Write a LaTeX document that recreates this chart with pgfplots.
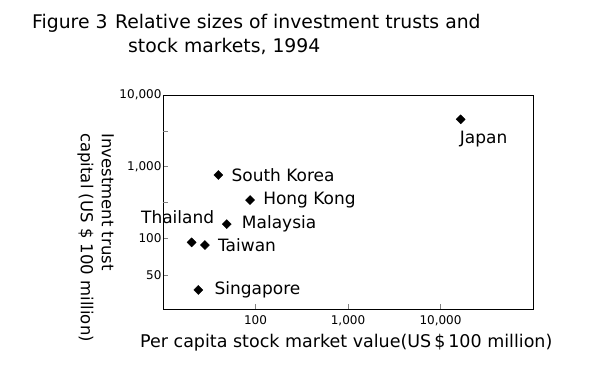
\documentclass[border=0pt]{standalone}
\usepackage{fontspec}
\setmainfont{DejaVu Sans}
\usepackage{pgfplots}
\pgfplotsset{compat=1.18}
\begin{document}
\begin{tikzpicture}[x=1bp,y=1bp]
\useasboundingbox (0,0) rectangle (597,377);
\node[anchor=base west, inner sep=0, font=\fontsize{18.8bp}{22bp}\selectfont] at (32,349) {Figure 3\hspace{0.4em}Relative sizes of investment trusts and};
\node[anchor=base west, inner sep=0, font=\fontsize{18.8bp}{22bp}\selectfont] at (128,325) {stock markets, 1994};
\begin{axis}[
  at={(163bp,68bp)}, anchor=south west,
  scale only axis, width=370bp, height=214bp,
  xmode=log, ymode=log,
  xmin=10, xmax=100000, ymin=10, ymax=10000,
  xtick={100,1000,10000}, xticklabels={100,{1,000},{10,000}},
  ytick={10000,1000,100,30.0}, yticklabels={{10,000},{1,000},100,50},
  extra y ticks={3162,316}, extra y tick labels={},
  extra tick style={tick align=inside, major tick length=5bp},
  xminorticks=false, yminorticks=false,
  tick align=inside, tick pos=left,
  major tick length=5bp,
  /pgf/number format/assume math mode=true,
  tick label style={font=\fontsize{12bp}{14bp}\selectfont},
  xticklabel style={yshift=-3bp},
  yticklabel style={xshift=2bp},
  axis line style={line width=0.8pt},
  clip=false,
]
\addplot[only marks, mark=square*, mark size=3.2bp, mark options={rotate=45, fill=black}] coordinates {
  (16520,4560) (39.7,756) (87.3,337) (48.9,155) (20.4,86) (28.4,78.9) (24.1,18.5)
};
\begin{scope}[every node/.style={font=\fontsize{17bp}{20bp}\selectfont, inner sep=0}]
\node[anchor=west, xshift=13bp] at (axis cs:39.7,756) {South Korea};
\node[anchor=west, xshift=13bp] at (axis cs:87.3,337) {Hong Kong};
\node[anchor=west, xshift=15bp] at (axis cs:48.9,155) {Malaysia};
\node[anchor=west, xshift=13bp] at (axis cs:28.4,78.9) {Taiwan};
\node[anchor=west, xshift=16bp] at (axis cs:24.1,18.5) {Singapore};
\node[anchor=north west, xshift=-1bp, yshift=-12bp] at (axis cs:16520,4560) {Japan};
\node[xshift=-14bp, yshift=25bp] at (axis cs:20.4,86) {Thailand};
\end{scope}
\end{axis}
\node[anchor=base west, inner sep=0, font=\fontsize{17.5bp}{20bp}\selectfont] at (140,30) {Per capita stock market value(US\,\$\,100 million)};
\node[rotate=-90, anchor=north west, align=left, inner sep=0, font=\fontsize{16.5bp}{21bp}\selectfont] at (114,244) {Investment trust\\capital (US \$ 100 million)};
\end{tikzpicture}
\end{document}
